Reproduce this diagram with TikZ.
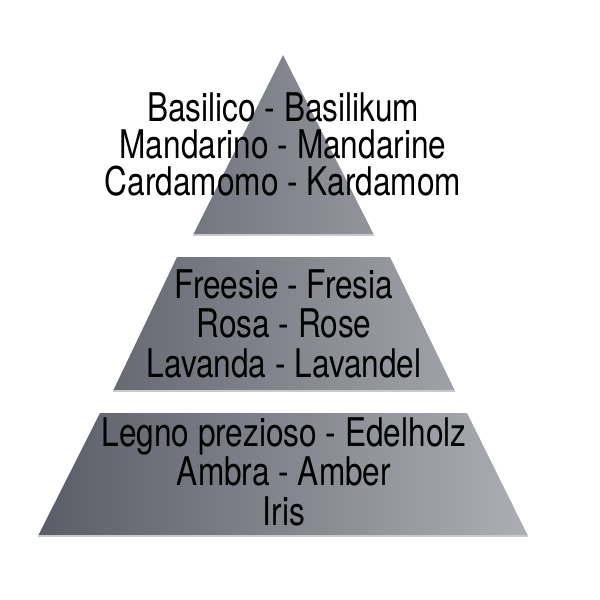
\documentclass[tikz,border=0pt]{standalone}
\usepackage{fontspec}
\setmainfont{TeX Gyre Heros}[FakeStretch=0.8]
\begin{document}
\begin{tikzpicture}[x=1pt,y=-1pt,
  txt/.style={anchor=base,inner sep=0pt,font=\fontsize{39.5}{39.5}\selectfont,text=black},
  tier/.style={left color=pyrL,right color=pyrR,draw=none}]
\definecolor{pyrL}{RGB}{90,93,103}
\definecolor{pyrR}{RGB}{172,174,180}
\definecolor{edgeL}{RGB}{200,202,206}
\useasboundingbox (0,0) rectangle (600,600);
\fill[white] (0,0) rectangle (600,600);
% one shaded path so the gradient spans the whole pyramid
\path[tier]
  (283,55) -- (374,235) -- (193,235) -- cycle
  (177,257) -- (390,257) -- (455,391) -- (113,391) -- cycle
  (100,413) -- (467,413) -- (528,536) -- (38,536) -- cycle;
% light bevel lines
\draw[edgeL,line width=1.5pt] (193,235) -- (374,235);
\draw[edgeL,line width=1.5pt] (113,391) -- (455,391);
\draw[edgeL,line width=1.5pt] (38,536) -- (528,536);
% top tier
\node[txt] (t1) at (283,121) {Basilico - Basilikum};
\node[txt] (t2) at (283,158) {Mandarino - Mandarine};
\node[txt] (t3) at (283,195) {Cardamomo - Kardamom};
% middle tier
\node[txt] (m1) at (284,298) {Freesie - Fresia};
\node[txt] (m2) at (284,337) {Rosa - Rose};
\node[txt] (m3) at (284,377) {Lavanda - Lavandel};
% bottom tier
\node[txt] (b1) at (284,446) {Legno prezioso - Edelholz};
\node[txt] (b2) at (284,485) {Ambra - Amber};
\node[txt] (b3) at (284,525) {Iris};
\end{tikzpicture}
\end{document}
